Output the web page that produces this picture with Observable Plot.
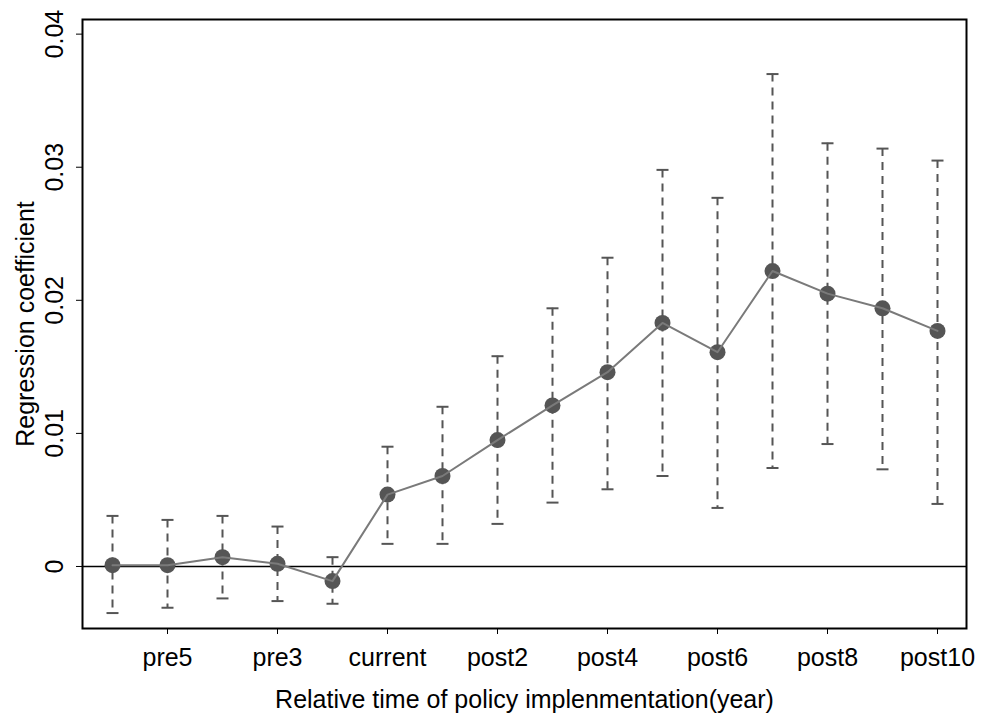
<!DOCTYPE html>
<html>
<head>
<meta charset="utf-8">
<script src="https://cdn.jsdelivr.net/npm/d3@7"></script>
<script src="https://cdn.jsdelivr.net/npm/@observablehq/plot@0.6"></script>
<style>
  html, body { margin: 0; padding: 0; background: #fff; }
</style>
</head>
<body>
<div id="chart"></div>
<script>
const periods = ["pre6","pre5","pre4","pre3","pre2","current","post1","post2","post3","post4","post5","post6","post7","post8","post9","post10"];
const coef  = [0.0001, 0.0001, 0.0007, 0.0002, -0.0011, 0.0054, 0.0068, 0.0095, 0.0121, 0.0146, 0.0183, 0.0161, 0.0222, 0.0205, 0.0194, 0.0177];
const upper = [0.0038, 0.0035, 0.0038, 0.0030, 0.0007, 0.0090, 0.0120, 0.0158, 0.0194, 0.0232, 0.0298, 0.0277, 0.0370, 0.0318, 0.0314, 0.0305];
const lower = [-0.0035, -0.0031, -0.0024, -0.0026, -0.0028, 0.0017, 0.0017, 0.0032, 0.0048, 0.0058, 0.0068, 0.0044, 0.0074, 0.0092, 0.0073, 0.0047];
const xTickLabels = ["pre5","pre3","current","post2","post4","post6","post8","post10"];
const yTicks = [0, 0.01, 0.02, 0.03, 0.04];

const data = periods.map((p, i) => ({period: p, b: coef[i], hi: upper[i], lo: lower[i]}));

const capSymbol = {
  draw(context) {
    context.moveTo(-6, 0);
    context.lineTo(6, 0);
  }
};

const chart = Plot.plot({
  width: 990,
  height: 717,
  marginLeft: 82,
  marginRight: 24,
  marginTop: 19,
  marginBottom: 89,
  style: {fontFamily: "'Liberation Sans', Arial, sans-serif", fontSize: "25px", color: "#000", background: "#fff"},
  x: {type: "point", domain: periods, padding: 0.5},
  y: {domain: [-0.00466, 0.0411]},
  marks: [
    Plot.ruleY([0], {stroke: "#000", strokeWidth: 1.5}),
    Plot.ruleX(data, {x: "period", y1: "hi", y2: "lo", stroke: "#555", strokeWidth: 2, strokeDasharray: "8,6"}),
    Plot.dot(data, {x: "period", y: "hi", symbol: capSymbol, stroke: "#555", strokeWidth: 2, r: 6}),
    Plot.dot(data, {x: "period", y: "lo", symbol: capSymbol, stroke: "#555", strokeWidth: 2, r: 6}),
    Plot.dot(data, {x: "period", y: "b", r: 8, fill: "#555", stroke: "none"}),
    Plot.line(data, {x: "period", y: "b", stroke: "#7a7a7a", strokeWidth: 2}),
    Plot.frame({stroke: "#000", strokeWidth: 2}),
    Plot.axisX(xTickLabels, {anchor: "bottom", tickSize: 6, tickPadding: 14, stroke: "#000", label: "Relative time of policy implenmentation(year)", labelAnchor: "center", labelOffset: 79, labelArrow: "none"}),
    Plot.axisY(yTicks, {anchor: "left", tickSize: 6, tickPadding: 14, tickRotate: -90, tickFormat: d => d === 0 ? "0" : d.toFixed(2), label: "Regression coefficient", labelAnchor: "center", labelOffset: 66, labelArrow: "none"})
  ]
});
document.getElementById("chart").appendChild(chart);
</script>
</body>
</html>
